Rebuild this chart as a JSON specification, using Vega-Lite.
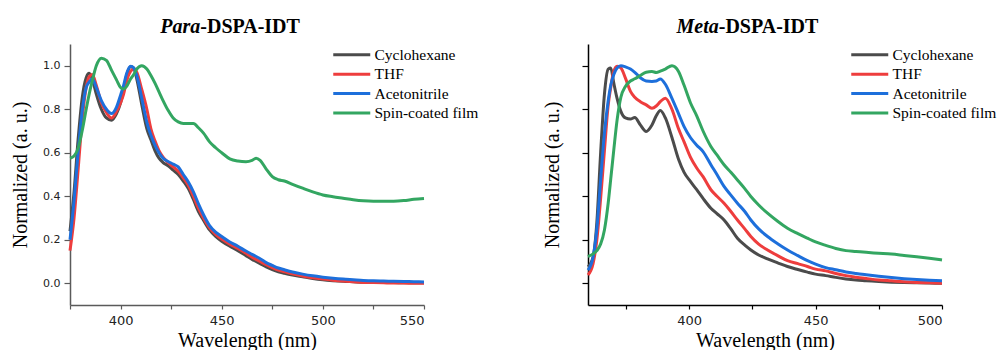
{
  "$schema": "https://vega.github.io/schema/vega-lite/v6.json",
  "background": "white",
  "padding": {"left": 10, "top": 17, "right": 2, "bottom": 0},
  "bounds": "flush",
  "spacing": 164,
  "resolve": {"legend": {"color": "independent"}},
  "config": {
    "view": {"stroke": null},
    "axis": {
      "labelFont": "DejaVu Sans",
      "labelColor": "#222",
      "titleFont": "Liberation Serif",
      "titleFontWeight": "normal",
      "titleFontSize": 20,
      "titleColor": "#000",
      "grid": false
    },
    "legend": {
      "symbolType": "M-3.7,0H3.7",
      "symbolStrokeWidth": 3,
      "symbolSize": 100,
      "labelFont": "Liberation Serif",
      "labelFontSize": 15.5,
      "labelColor": "#000",
      "labelOffset": 15,
      "padding": 0
    }
  },
  "datasets": {
    "para": [
      {"wavelength": 375, "Cyclohexane": 0.24, "THF": 0.15, "Acetonitrile": 0.2, "Spin-coated film": 0.575},
      {"wavelength": 377, "Cyclohexane": 0.42, "THF": 0.3, "Acetonitrile": 0.38, "Spin-coated film": 0.585},
      {"wavelength": 379, "Cyclohexane": 0.66, "THF": 0.52, "Acetonitrile": 0.6, "Spin-coated film": 0.62},
      {"wavelength": 381, "Cyclohexane": 0.85, "THF": 0.75, "Acetonitrile": 0.79, "Spin-coated film": 0.7},
      {"wavelength": 383, "Cyclohexane": 0.945, "THF": 0.9, "Acetonitrile": 0.9, "Spin-coated film": 0.8},
      {"wavelength": 384.5, "Cyclohexane": 0.965, "THF": 0.95, "Acetonitrile": 0.925, "Spin-coated film": 0.87},
      {"wavelength": 386, "Cyclohexane": 0.94, "THF": 0.96, "Acetonitrile": 0.94, "Spin-coated film": 0.93},
      {"wavelength": 388, "Cyclohexane": 0.87, "THF": 0.91, "Acetonitrile": 0.9, "Spin-coated film": 1.0},
      {"wavelength": 390.5, "Cyclohexane": 0.8, "THF": 0.83, "Acetonitrile": 0.84, "Spin-coated film": 1.035},
      {"wavelength": 393, "Cyclohexane": 0.76, "THF": 0.785, "Acetonitrile": 0.8, "Spin-coated film": 1.025},
      {"wavelength": 395.5, "Cyclohexane": 0.75, "THF": 0.76, "Acetonitrile": 0.78, "Spin-coated film": 0.98},
      {"wavelength": 398, "Cyclohexane": 0.78, "THF": 0.79, "Acetonitrile": 0.81, "Spin-coated film": 0.935},
      {"wavelength": 400, "Cyclohexane": 0.83, "THF": 0.83, "Acetonitrile": 0.865, "Spin-coated film": 0.9},
      {"wavelength": 401.5, "Cyclohexane": 0.885, "THF": 0.87, "Acetonitrile": 0.91, "Spin-coated film": 0.893},
      {"wavelength": 403, "Cyclohexane": 0.955, "THF": 0.93, "Acetonitrile": 0.965, "Spin-coated film": 0.905},
      {"wavelength": 405, "Cyclohexane": 0.995, "THF": 0.975, "Acetonitrile": 0.998, "Spin-coated film": 0.94},
      {"wavelength": 406.5, "Cyclohexane": 0.99, "THF": 0.985, "Acetonitrile": 0.99, "Spin-coated film": 0.96},
      {"wavelength": 408, "Cyclohexane": 0.94, "THF": 0.97, "Acetonitrile": 0.955, "Spin-coated film": 0.985},
      {"wavelength": 410.5, "Cyclohexane": 0.82, "THF": 0.89, "Acetonitrile": 0.85, "Spin-coated film": 1.0},
      {"wavelength": 413, "Cyclohexane": 0.71, "THF": 0.8, "Acetonitrile": 0.74, "Spin-coated film": 0.985},
      {"wavelength": 415, "Cyclohexane": 0.66, "THF": 0.71, "Acetonitrile": 0.68, "Spin-coated film": 0.955},
      {"wavelength": 417, "Cyclohexane": 0.61, "THF": 0.655, "Acetonitrile": 0.635, "Spin-coated film": 0.92},
      {"wavelength": 419, "Cyclohexane": 0.575, "THF": 0.61, "Acetonitrile": 0.6, "Spin-coated film": 0.88},
      {"wavelength": 421, "Cyclohexane": 0.555, "THF": 0.58, "Acetonitrile": 0.575, "Spin-coated film": 0.84},
      {"wavelength": 423.5, "Cyclohexane": 0.54, "THF": 0.555, "Acetonitrile": 0.56, "Spin-coated film": 0.795},
      {"wavelength": 426, "Cyclohexane": 0.52, "THF": 0.535, "Acetonitrile": 0.548, "Spin-coated film": 0.76},
      {"wavelength": 428.5, "Cyclohexane": 0.5, "THF": 0.515, "Acetonitrile": 0.535, "Spin-coated film": 0.742},
      {"wavelength": 431, "Cyclohexane": 0.47, "THF": 0.485, "Acetonitrile": 0.5, "Spin-coated film": 0.735},
      {"wavelength": 433.5, "Cyclohexane": 0.435, "THF": 0.45, "Acetonitrile": 0.465, "Spin-coated film": 0.735},
      {"wavelength": 436, "Cyclohexane": 0.385, "THF": 0.4, "Acetonitrile": 0.42, "Spin-coated film": 0.735},
      {"wavelength": 438.5, "Cyclohexane": 0.33, "THF": 0.345, "Acetonitrile": 0.365, "Spin-coated film": 0.715},
      {"wavelength": 441, "Cyclohexane": 0.29, "THF": 0.3, "Acetonitrile": 0.315, "Spin-coated film": 0.69},
      {"wavelength": 444, "Cyclohexane": 0.245, "THF": 0.255, "Acetonitrile": 0.265, "Spin-coated film": 0.65},
      {"wavelength": 447, "Cyclohexane": 0.215, "THF": 0.225, "Acetonitrile": 0.235, "Spin-coated film": 0.623},
      {"wavelength": 450, "Cyclohexane": 0.193, "THF": 0.203, "Acetonitrile": 0.215, "Spin-coated film": 0.6},
      {"wavelength": 454, "Cyclohexane": 0.17, "THF": 0.18, "Acetonitrile": 0.19, "Spin-coated film": 0.572},
      {"wavelength": 458, "Cyclohexane": 0.15, "THF": 0.16, "Acetonitrile": 0.17, "Spin-coated film": 0.562},
      {"wavelength": 462, "Cyclohexane": 0.127, "THF": 0.138, "Acetonitrile": 0.148, "Spin-coated film": 0.559},
      {"wavelength": 465, "Cyclohexane": 0.11, "THF": 0.12, "Acetonitrile": 0.133, "Spin-coated film": 0.565},
      {"wavelength": 467, "Cyclohexane": 0.1, "THF": 0.11, "Acetonitrile": 0.123, "Spin-coated film": 0.575},
      {"wavelength": 469, "Cyclohexane": 0.09, "THF": 0.1, "Acetonitrile": 0.113, "Spin-coated film": 0.565},
      {"wavelength": 472, "Cyclohexane": 0.075, "THF": 0.085, "Acetonitrile": 0.095, "Spin-coated film": 0.525},
      {"wavelength": 475, "Cyclohexane": 0.063, "THF": 0.072, "Acetonitrile": 0.082, "Spin-coated film": 0.49},
      {"wavelength": 478, "Cyclohexane": 0.053, "THF": 0.061, "Acetonitrile": 0.07, "Spin-coated film": 0.476},
      {"wavelength": 481, "Cyclohexane": 0.046, "THF": 0.053, "Acetonitrile": 0.062, "Spin-coated film": 0.47},
      {"wavelength": 485, "Cyclohexane": 0.038, "THF": 0.043, "Acetonitrile": 0.052, "Spin-coated film": 0.455},
      {"wavelength": 490, "Cyclohexane": 0.03, "THF": 0.033, "Acetonitrile": 0.042, "Spin-coated film": 0.437},
      {"wavelength": 495, "Cyclohexane": 0.022, "THF": 0.025, "Acetonitrile": 0.034, "Spin-coated film": 0.42},
      {"wavelength": 500, "Cyclohexane": 0.016, "THF": 0.019, "Acetonitrile": 0.028, "Spin-coated film": 0.406},
      {"wavelength": 505, "Cyclohexane": 0.012, "THF": 0.014, "Acetonitrile": 0.023, "Spin-coated film": 0.398},
      {"wavelength": 510, "Cyclohexane": 0.009, "THF": 0.01, "Acetonitrile": 0.019, "Spin-coated film": 0.391},
      {"wavelength": 515, "Cyclohexane": 0.007, "THF": 0.007, "Acetonitrile": 0.016, "Spin-coated film": 0.384},
      {"wavelength": 520, "Cyclohexane": 0.005, "THF": 0.004, "Acetonitrile": 0.013, "Spin-coated film": 0.379},
      {"wavelength": 525, "Cyclohexane": 0.004, "THF": 0.003, "Acetonitrile": 0.011, "Spin-coated film": 0.377},
      {"wavelength": 530, "Cyclohexane": 0.003, "THF": 0.002, "Acetonitrile": 0.01, "Spin-coated film": 0.377},
      {"wavelength": 535, "Cyclohexane": 0.003, "THF": 0.001, "Acetonitrile": 0.009, "Spin-coated film": 0.377},
      {"wavelength": 540, "Cyclohexane": 0.002, "THF": 0.001, "Acetonitrile": 0.008, "Spin-coated film": 0.38},
      {"wavelength": 545, "Cyclohexane": 0.002, "THF": 0.0, "Acetonitrile": 0.007, "Spin-coated film": 0.386},
      {"wavelength": 550, "Cyclohexane": 0.002, "THF": 0.0, "Acetonitrile": 0.006, "Spin-coated film": 0.39}
    ],
    "meta": [
      {"wavelength": 360, "Cyclohexane": 0.075, "THF": 0.038, "Acetonitrile": 0.06, "Spin-coated film": 0.123},
      {"wavelength": 362, "Cyclohexane": 0.12, "THF": 0.09, "Acetonitrile": 0.12, "Spin-coated film": 0.135},
      {"wavelength": 363.5, "Cyclohexane": 0.28, "THF": 0.2, "Acetonitrile": 0.25, "Spin-coated film": 0.15},
      {"wavelength": 365, "Cyclohexane": 0.6, "THF": 0.39, "Acetonitrile": 0.475, "Spin-coated film": 0.18},
      {"wavelength": 366.5, "Cyclohexane": 0.87, "THF": 0.61, "Acetonitrile": 0.69, "Spin-coated film": 0.245},
      {"wavelength": 368, "Cyclohexane": 0.985, "THF": 0.82, "Acetonitrile": 0.84, "Spin-coated film": 0.37},
      {"wavelength": 369, "Cyclohexane": 0.99, "THF": 0.9, "Acetonitrile": 0.91, "Spin-coated film": 0.48},
      {"wavelength": 370.2, "Cyclohexane": 0.92, "THF": 0.975, "Acetonitrile": 0.96, "Spin-coated film": 0.613},
      {"wavelength": 371.5, "Cyclohexane": 0.85, "THF": 0.998, "Acetonitrile": 0.99, "Spin-coated film": 0.75},
      {"wavelength": 373, "Cyclohexane": 0.79, "THF": 0.99, "Acetonitrile": 1.0, "Spin-coated film": 0.855},
      {"wavelength": 374.8, "Cyclohexane": 0.76, "THF": 0.943, "Acetonitrile": 0.995, "Spin-coated film": 0.905},
      {"wavelength": 376.8, "Cyclohexane": 0.755, "THF": 0.882, "Acetonitrile": 0.985, "Spin-coated film": 0.93},
      {"wavelength": 378.5, "Cyclohexane": 0.762, "THF": 0.855, "Acetonitrile": 0.97, "Spin-coated film": 0.94},
      {"wavelength": 380.7, "Cyclohexane": 0.728, "THF": 0.835, "Acetonitrile": 0.945, "Spin-coated film": 0.955},
      {"wavelength": 383, "Cyclohexane": 0.698, "THF": 0.82, "Acetonitrile": 0.93, "Spin-coated film": 0.97},
      {"wavelength": 385.3, "Cyclohexane": 0.728, "THF": 0.805, "Acetonitrile": 0.928, "Spin-coated film": 0.973},
      {"wavelength": 387, "Cyclohexane": 0.77, "THF": 0.815, "Acetonitrile": 0.93, "Spin-coated film": 0.969},
      {"wavelength": 388.6, "Cyclohexane": 0.794, "THF": 0.835, "Acetonitrile": 0.939, "Spin-coated film": 0.975},
      {"wavelength": 390.6, "Cyclohexane": 0.76, "THF": 0.851, "Acetonitrile": 0.915, "Spin-coated film": 0.985},
      {"wavelength": 393.2, "Cyclohexane": 0.67, "THF": 0.8, "Acetonitrile": 0.85, "Spin-coated film": 1.0},
      {"wavelength": 395.8, "Cyclohexane": 0.57, "THF": 0.71, "Acetonitrile": 0.78, "Spin-coated film": 0.974},
      {"wavelength": 398, "Cyclohexane": 0.51, "THF": 0.65, "Acetonitrile": 0.72, "Spin-coated film": 0.91},
      {"wavelength": 400.5, "Cyclohexane": 0.468, "THF": 0.58, "Acetonitrile": 0.67, "Spin-coated film": 0.83},
      {"wavelength": 403, "Cyclohexane": 0.43, "THF": 0.53, "Acetonitrile": 0.635, "Spin-coated film": 0.77},
      {"wavelength": 405.5, "Cyclohexane": 0.39, "THF": 0.49, "Acetonitrile": 0.605, "Spin-coated film": 0.7},
      {"wavelength": 408.6, "Cyclohexane": 0.345, "THF": 0.43, "Acetonitrile": 0.545, "Spin-coated film": 0.629},
      {"wavelength": 411, "Cyclohexane": 0.32, "THF": 0.4, "Acetonitrile": 0.5, "Spin-coated film": 0.59},
      {"wavelength": 413.8, "Cyclohexane": 0.291, "THF": 0.368, "Acetonitrile": 0.445, "Spin-coated film": 0.545},
      {"wavelength": 416.5, "Cyclohexane": 0.25, "THF": 0.33, "Acetonitrile": 0.405, "Spin-coated film": 0.51},
      {"wavelength": 419.1, "Cyclohexane": 0.207, "THF": 0.291, "Acetonitrile": 0.368, "Spin-coated film": 0.475},
      {"wavelength": 422, "Cyclohexane": 0.175, "THF": 0.25, "Acetonitrile": 0.33, "Spin-coated film": 0.435},
      {"wavelength": 424.4, "Cyclohexane": 0.153, "THF": 0.215, "Acetonitrile": 0.291, "Spin-coated film": 0.399},
      {"wavelength": 427.5, "Cyclohexane": 0.13, "THF": 0.18, "Acetonitrile": 0.25, "Spin-coated film": 0.36},
      {"wavelength": 431, "Cyclohexane": 0.112, "THF": 0.153, "Acetonitrile": 0.215, "Spin-coated film": 0.322},
      {"wavelength": 435, "Cyclohexane": 0.094, "THF": 0.127, "Acetonitrile": 0.182, "Spin-coated film": 0.285},
      {"wavelength": 438.9, "Cyclohexane": 0.077, "THF": 0.104, "Acetonitrile": 0.153, "Spin-coated film": 0.253},
      {"wavelength": 443, "Cyclohexane": 0.063, "THF": 0.09, "Acetonitrile": 0.127, "Spin-coated film": 0.228},
      {"wavelength": 446.8, "Cyclohexane": 0.051, "THF": 0.077, "Acetonitrile": 0.104, "Spin-coated film": 0.207},
      {"wavelength": 450, "Cyclohexane": 0.042, "THF": 0.065, "Acetonitrile": 0.088, "Spin-coated film": 0.19},
      {"wavelength": 454, "Cyclohexane": 0.035, "THF": 0.057, "Acetonitrile": 0.072, "Spin-coated film": 0.174},
      {"wavelength": 458, "Cyclohexane": 0.027, "THF": 0.045, "Acetonitrile": 0.062, "Spin-coated film": 0.16},
      {"wavelength": 462, "Cyclohexane": 0.02, "THF": 0.035, "Acetonitrile": 0.052, "Spin-coated film": 0.15},
      {"wavelength": 466, "Cyclohexane": 0.015, "THF": 0.028, "Acetonitrile": 0.045, "Spin-coated film": 0.146},
      {"wavelength": 470, "Cyclohexane": 0.012, "THF": 0.022, "Acetonitrile": 0.039, "Spin-coated film": 0.142},
      {"wavelength": 475, "Cyclohexane": 0.008, "THF": 0.015, "Acetonitrile": 0.032, "Spin-coated film": 0.138},
      {"wavelength": 480, "Cyclohexane": 0.005, "THF": 0.011, "Acetonitrile": 0.026, "Spin-coated film": 0.134},
      {"wavelength": 485, "Cyclohexane": 0.003, "THF": 0.007, "Acetonitrile": 0.021, "Spin-coated film": 0.128},
      {"wavelength": 490, "Cyclohexane": 0.002, "THF": 0.004, "Acetonitrile": 0.017, "Spin-coated film": 0.122},
      {"wavelength": 495, "Cyclohexane": 0.001, "THF": 0.002, "Acetonitrile": 0.014, "Spin-coated film": 0.115},
      {"wavelength": 500, "Cyclohexane": 0.0, "THF": 0.0, "Acetonitrile": 0.012, "Spin-coated film": 0.107}
    ]
  },
  "hconcat": [
    {
      "width": 354,
      "height": 261,
      "layer": [
        {
          "data": {"name": "para"},
          "transform": [{"fold": ["Cyclohexane", "THF", "Acetonitrile", "Spin-coated film"], "as": ["sample", "intensity"]}],
          "mark": {"type": "line", "strokeWidth": 3, "interpolate": "monotone"},
          "encoding": {
            "x": {
              "field": "wavelength", "type": "quantitative",
              "scale": {"domain": [375, 550], "nice": false, "zero": false},
              "axis": {
                "title": "Wavelength (nm)",
                "titleFont": "Liberation Serif", "titleFontSize": 20, "titleFontWeight": "normal",
                "values": [375, 400, 425, 450, 475, 500, 525, 550],
                "labelExpr": "datum.value % 50 === 0 ? datum.label : ''",
                "labelFontSize": 13, "labelPadding": 5, "tickSize": 4,
                "domainColor": "#5a5a5a", "tickColor": "#5a5a5a", "domainWidth": 1.5, "tickWidth": 1.2,
                "titlePadding": 3
              }
            },
            "y": {
              "field": "intensity", "type": "quantitative",
              "scale": {"domain": [-0.1, 1.1], "nice": false, "zero": false},
              "axis": {
                "title": "Normalized (a. u.)",
                "titleFont": "Liberation Serif", "titleFontSize": 20, "titleFontWeight": "normal",
                "values": [0, 0.1, 0.2, 0.3, 0.4, 0.5, 0.6, 0.7, 0.8, 0.9, 1.0, 1.1],
                "labelExpr": "(round(datum.value*10) % 2 === 0 && datum.value < 1.05) ? format(datum.value, '.1f') : ''",
                "tickSize": {"condition": {"test": "round(datum.value*10) % 2 === 0", "value": 6}, "value": 3},
                "labelFontSize": 11, "labelPadding": 4,
                "domainColor": "#5a5a5a", "tickColor": "#5a5a5a", "domainWidth": 1.5, "tickWidth": 1.2,
                "titlePadding": 12
              }
            },
            "color": {
              "field": "sample", "type": "nominal",
              "scale": {"domain": ["Cyclohexane", "THF", "Acetonitrile", "Spin-coated film"], "range": ["#4b4b4b", "#ee3d3d", "#1d6fdb", "#33a661"]},
              "legend": {"title": null, "orient": "none", "legendX": 274, "legendY": 3, "rowPadding": 2.4, "labelFont": "Liberation Serif", "labelFontSize": 15.5, "labelColor": "#000"}
            }
          }
        },
        {
          "data": {"values": [{"part": "Para"}]},
          "mark": {"type": "text", "font": "Liberation Serif", "fontSize": 20, "fontWeight": "bold", "fontStyle": "italic", "align": "right", "baseline": "alphabetic", "color": "#000"},
          "encoding": {"x": {"datum": 439.4}, "y": {"datum": 1.15}, "text": {"field": "part"}}
        },
        {
          "data": {"values": [{"part": "-DSPA-IDT"}]},
          "mark": {"type": "text", "font": "Liberation Serif", "fontSize": 20, "fontWeight": "bold", "align": "left", "baseline": "alphabetic", "color": "#000"},
          "encoding": {"x": {"datum": 439.4}, "y": {"datum": 1.15}, "text": {"field": "part"}}
        }
      ]
    },
    {
      "width": 354,
      "height": 261,
      "layer": [
        {
          "data": {"name": "meta"},
          "transform": [{"fold": ["Cyclohexane", "THF", "Acetonitrile", "Spin-coated film"], "as": ["sample", "intensity"]}],
          "mark": {"type": "line", "strokeWidth": 3, "interpolate": "monotone"},
          "encoding": {
            "x": {
              "field": "wavelength", "type": "quantitative",
              "scale": {"domain": [360, 500], "nice": false, "zero": false},
              "axis": {
                "title": "Wavelength (nm)",
                "titleFont": "Liberation Serif", "titleFontSize": 20, "titleFontWeight": "normal",
                "values": [375, 400, 425, 450, 475, 500],
                "labelExpr": "datum.value % 50 === 0 ? datum.label : ''",
                "labelFontSize": 13, "labelPadding": 5, "tickSize": 4,
                "domainColor": "#000", "tickColor": "#000", "domainWidth": 1.5, "tickWidth": 1.2,
                "titlePadding": 3
              }
            },
            "y": {
              "field": "intensity", "type": "quantitative",
              "scale": {"domain": [-0.1, 1.1], "nice": false, "zero": false},
              "axis": {
                "title": "Normalized (a. u.)",
                "titleFont": "Liberation Serif", "titleFontSize": 20, "titleFontWeight": "normal",
                "values": [0, 0.1, 0.2, 0.3, 0.4, 0.5, 0.6, 0.7, 0.8, 0.9, 1.0, 1.1],
                "labels": false,
                "tickSize": {"condition": {"test": "round(datum.value*10) % 2 === 0", "value": 6}, "value": 3},
                "domainColor": "#000", "tickColor": "#000", "domainWidth": 1.5, "tickWidth": 1.2,
                "titlePadding": 19
              }
            },
            "color": {
              "field": "sample", "type": "nominal",
              "scale": {"domain": ["Cyclohexane", "THF", "Acetonitrile", "Spin-coated film"], "range": ["#4b4b4b", "#ee3d3d", "#1d6fdb", "#33a661"]},
              "legend": {"title": null, "orient": "none", "legendX": 274, "legendY": 3, "rowPadding": 2.4, "labelFont": "Liberation Serif", "labelFontSize": 15.5, "labelColor": "#000"}
            }
          }
        },
        {
          "data": {"values": [{"part": "Meta"}]},
          "mark": {"type": "text", "font": "Liberation Serif", "fontSize": 20, "fontWeight": "bold", "fontStyle": "italic", "align": "right", "baseline": "alphabetic", "color": "#000"},
          "encoding": {"x": {"datum": 411.7}, "y": {"datum": 1.15}, "text": {"field": "part"}}
        },
        {
          "data": {"values": [{"part": "-DSPA-IDT"}]},
          "mark": {"type": "text", "font": "Liberation Serif", "fontSize": 20, "fontWeight": "bold", "align": "left", "baseline": "alphabetic", "color": "#000"},
          "encoding": {"x": {"datum": 411.7}, "y": {"datum": 1.15}, "text": {"field": "part"}}
        }
      ]
    }
  ]
}
